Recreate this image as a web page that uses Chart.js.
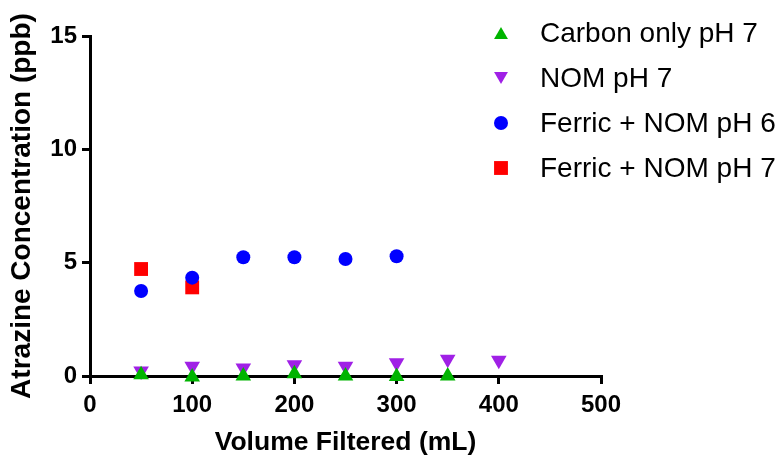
<!DOCTYPE html>
<html>
<head>
<meta charset="utf-8">
<script src="https://cdn.jsdelivr.net/npm/chart.js@4.4.1/dist/chart.umd.min.js"></script>
<style>
  body { margin: 0; background: #fff; }
  #wrap { width: 780px; height: 461px; }
</style>
</head>
<body>
<div id="wrap"><canvas id="myChart" width="780" height="461"></canvas></div>
<script>
// values
const volumes = [50, 100, 150, 200, 250, 300, 350, 400];
const carbonOnly = [0.06, -0.04, 0.0, 0.1, 0.0, -0.02, 0.0];
const nomPh7 = [0.22, 0.43, 0.35, 0.5, 0.43, 0.58, 0.74, 0.7];
const ferricPh6 = [3.75, 4.34, 5.24, 5.24, 5.16, 5.28];
const ferricPh7 = [4.72, 3.91];
const seriesNames = ['Carbon only pH 7', 'NOM pH 7', 'Ferric + NOM pH 6', 'Ferric + NOM pH 7'];
const yTicks = [0, 5, 10, 15];

const FONT = "'Liberation Sans', Arial, sans-serif";

function toPoints(vals) {
    return vals.map(function (v, i) { return { x: volumes[i], y: v }; });
}

// legend drawn by hand so it can sit over the top right of the plot
const sideLegend = {
    id: 'sideLegend',
    afterDraw: function (chart) {
        const ctx = chart.ctx;
        ctx.save();
        ctx.font = '28px ' + FONT;
        ctx.textBaseline = 'middle';
        chart.data.datasets.forEach(function (ds, i) {
            const y = 33 + i * 45;
            ctx.fillStyle = ds.backgroundColor;
            ctx.strokeStyle = ds.backgroundColor;
            let my = y;
            if (ds.pointStyle === 'triangle') my = ds.pointRotation ? y - 2 : y + 2;
            Chart.helpers.drawPoint(ctx, {
                pointStyle: ds.pointStyle,
                radius: ds.pointStyle === 'triangle' ? 8 : ds.pointRadius,
                rotation: ds.pointRotation || 0,
                borderWidth: 0
            }, 501, my);
            ctx.fillStyle = '#000';
            ctx.fillText(ds.label, 540, y + 1);
        });
        ctx.restore();
    }
};

const ctx = document.getElementById('myChart');

const myChart = new Chart(ctx, {
    type: 'scatter',
    data: {
        datasets: [{
            label: seriesNames[0],
            data: toPoints(carbonOnly),
            pointStyle: 'triangle',
            pointRadius: 9,
            backgroundColor: '#00B400',
            borderColor: '#00B400',
            borderWidth: 0,
            clip: false
        }, {
            label: seriesNames[1],
            data: toPoints(nomPh7),
            pointStyle: 'triangle',
            pointRotation: 180,
            pointRadius: 9,
            backgroundColor: '#A020E6',
            borderColor: '#A020E6',
            borderWidth: 0,
            clip: false
        }, {
            label: seriesNames[2],
            data: toPoints(ferricPh6),
            pointStyle: 'circle',
            pointRadius: 7,
            backgroundColor: '#0000FF',
            borderColor: '#0000FF',
            borderWidth: 0,
            clip: false
        }, {
            label: seriesNames[3],
            data: toPoints(ferricPh7),
            pointStyle: 'rect',
            pointRadius: 9.8,
            backgroundColor: '#FF0000',
            borderColor: '#FF0000',
            borderWidth: 0,
            clip: false
        }]
    },
    options: {
        responsive: false,
        animation: false,
        layout: { padding: { top: 36, right: 179, bottom: 0, left: 0 } },
        plugins: {
            legend: { display: false },
            tooltip: { enabled: false }
        },
        scales: {
            x: {
                type: 'linear',
                min: 0,
                max: 500,
                afterFit: function (scale) { scale.height = 85; },
                ticks: {
                    stepSize: 100,
                    color: '#000',
                    padding: 7,
                    maxRotation: 0,
                    font: { family: FONT, size: 24, weight: 'bold' }
                },
                grid: {
                    drawOnChartArea: false,
                    color: '#000',
                    lineWidth: 3,
                    tickLength: 8
                },
                border: { color: '#000', width: 3 },
                title: {
                    display: true,
                    text: 'Volume Filtered (mL)',
                    color: '#000',
                    padding: { top: 4, bottom: 2 },
                    font: { family: FONT, size: 26.5, weight: 'bold' }
                }
            },
            y: {
                min: 0,
                max: 15,
                afterFit: function (scale) { scale.width = 90; },
                afterBuildTicks: function (scale) {
                    scale.ticks = yTicks.map(function (v) { return { value: v }; });
                },
                ticks: {
                    color: '#000',
                    padding: 5,
                    font: { family: FONT, size: 24, weight: 'bold' }
                },
                grid: {
                    drawOnChartArea: false,
                    color: '#000',
                    lineWidth: 3,
                    tickLength: 8
                },
                border: { color: '#000', width: 3 },
                title: {
                    display: true,
                    text: 'Atrazine Concentration (ppb)',
                    color: '#000',
                    padding: { top: 5, bottom: 4 },
                    font: { family: FONT, size: 28, weight: 'bold' }
                }
            }
        }
    },
    plugins: [sideLegend]
});
</script>
</body>
</html>
